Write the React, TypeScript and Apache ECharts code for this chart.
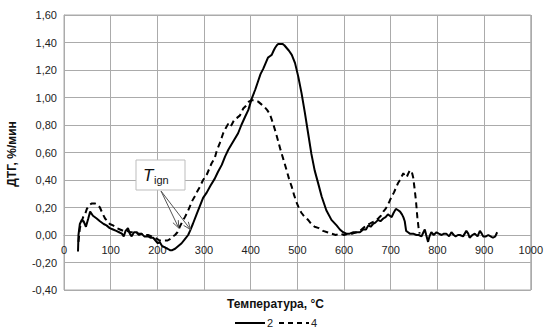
import React, { useEffect, useRef } from "react";
import * as echarts from "echarts";

// Sample "2" (solid line): temperature, °C and DTG, %/min
const temp2 = [30, 31, 34, 38, 42, 47, 52, 56, 62, 70, 77, 85, 91, 98, 105, 112, 118, 124, 128, 132, 137, 141, 145, 150, 156, 161, 166, 172, 180, 186, 191, 196, 201, 205, 210, 216, 222, 227, 232, 238, 245, 252, 259, 266, 270, 276, 284, 291, 298, 306, 314, 323, 330, 338, 345, 352, 359, 366, 373, 380, 388, 395, 402, 410, 416, 421, 427, 432, 437, 441, 445, 449, 452, 456, 459, 463, 468, 472, 477, 482, 488, 495, 502, 509, 516, 523, 530, 537, 545, 552, 562, 573, 584, 591, 598, 605, 612, 620, 627, 634, 641, 647, 652, 657, 662, 667, 673, 678, 684, 689, 694, 698, 702, 706, 711, 716, 720, 724, 727, 730, 733, 737, 741, 748, 755, 760, 766, 770, 773, 776, 780, 783, 787, 792, 798, 803, 809, 814, 819, 825, 830, 835, 839, 844, 848, 855, 862, 866, 869, 875, 880, 886, 891, 895, 898, 904, 909, 914, 919, 924, 928];
const dtg2 = [-0.12, 0.0, 0.08, 0.11, 0.10, 0.06, 0.12, 0.17, 0.14, 0.12, 0.10, 0.08, 0.07, 0.05, 0.04, 0.03, 0.02, 0.01, -0.01, 0.03, 0.05, 0.01, -0.01, 0.02, 0.02, 0.0, 0.01, -0.01, -0.01, -0.02, -0.02, -0.04, -0.06, -0.05, -0.08, -0.09, -0.10, -0.11, -0.11, -0.10, -0.08, -0.06, -0.03, 0.0, 0.03, 0.08, 0.15, 0.21, 0.27, 0.31, 0.36, 0.41, 0.46, 0.51, 0.57, 0.62, 0.66, 0.70, 0.74, 0.80, 0.86, 0.91, 0.99, 1.06, 1.12, 1.17, 1.21, 1.25, 1.29, 1.30, 1.31, 1.34, 1.36, 1.38, 1.39, 1.39, 1.39, 1.38, 1.36, 1.34, 1.31, 1.25, 1.15, 1.03, 0.89, 0.74, 0.59, 0.47, 0.37, 0.28, 0.18, 0.11, 0.07, 0.04, 0.02, 0.01, 0.01, 0.02, 0.02, 0.02, 0.04, 0.04, 0.07, 0.06, 0.08, 0.09, 0.11, 0.10, 0.12, 0.13, 0.15, 0.14, 0.13, 0.16, 0.19, 0.18, 0.17, 0.15, 0.13, 0.10, 0.03, 0.02, 0.01, 0.01, 0.0, 0.0, -0.01, 0.02, 0.04, 0.0, -0.05, -0.01, 0.02, 0.0, 0.02, 0.01, 0.0, 0.01, 0.01, -0.01, 0.02, 0.0, -0.01, 0.0, 0.0, -0.01, 0.03, 0.01, -0.02, 0.0, 0.01, -0.01, 0.03, 0.01, -0.01, -0.01, 0.0, -0.01, -0.02, -0.01, 0.02];

// Sample "4" (dashed line)
const temp4 = [31, 34, 38, 41, 45, 49, 55, 60, 66, 72, 77, 82, 88, 93, 98, 105, 113, 120, 127, 135, 142, 150, 158, 165, 172, 180, 188, 195, 200, 205, 210, 216, 222, 227, 233, 238, 243, 248, 254, 259, 265, 270, 275, 280, 286, 291, 298, 306, 316, 323, 327, 334, 341, 347, 352, 356, 359, 365, 370, 377, 384, 390, 396, 402, 409, 416, 423, 430, 435, 441, 448, 455, 463, 470, 477, 482, 488, 493, 498, 504, 509, 516, 523, 530, 537, 546, 555, 564, 573, 582, 591, 600, 609, 618, 627, 634, 641, 648, 654, 659, 666, 673, 679, 684, 689, 694, 698, 702, 707, 712, 716, 720, 724, 727, 730, 734, 738, 741, 745, 748, 751, 754, 757, 760, 762];
const dtg4 = [-0.05, 0.05, 0.10, 0.13, 0.15, 0.19, 0.22, 0.23, 0.23, 0.22, 0.20, 0.16, 0.12, 0.10, 0.08, 0.07, 0.05, 0.04, 0.03, 0.03, 0.02, 0.02, 0.01, 0.01, 0.0, 0.0, -0.01, -0.02, -0.03, -0.04, -0.04, -0.04, -0.04, -0.03, -0.01, 0.0, 0.02, 0.06, 0.10, 0.13, 0.17, 0.21, 0.25, 0.28, 0.32, 0.35, 0.40, 0.44, 0.52, 0.56, 0.61, 0.67, 0.74, 0.78, 0.81, 0.79, 0.80, 0.84, 0.85, 0.87, 0.92, 0.94, 0.97, 0.98, 0.98, 0.97, 0.95, 0.93, 0.91, 0.88, 0.81, 0.73, 0.63, 0.55, 0.47, 0.41, 0.35, 0.29, 0.24, 0.19, 0.16, 0.13, 0.11, 0.08, 0.06, 0.05, 0.03, 0.02, 0.01, 0.0, 0.01, 0.0, 0.01, 0.01, 0.02, 0.03, 0.05, 0.07, 0.08, 0.09, 0.10, 0.12, 0.14, 0.17, 0.19, 0.22, 0.25, 0.28, 0.31, 0.35, 0.38, 0.40, 0.43, 0.45, 0.43, 0.42, 0.45, 0.47, 0.46, 0.42, 0.34, 0.25, 0.13, 0.04, 0.01];

// Ignition points the T_ign arrows point at: [temperature, DTG]
const ignition4 = [246, 0.05];
const ignition2 = [271, 0.04];

const seriesNames = ["2", "4"];
const xTitle = "Температура, °C";
const yTitle = "ДТГ, %/мин";

const FONT = "'Liberation Sans', Arial, sans-serif";
const GRID_COLOR = "#ababab";
const Y_MIN = -0.4;
const Y_MAX = 1.6;
const GRID_TOP = 15;
const GRID_BOTTOM = 45;
const CHART_H = 335;

const pairs = (xs: number[], ys: number[]) => xs.map((x, i) => [x, ys[i]]);

function arrow(from: number[], to: number[]) {
  const dx = to[0] - from[0];
  const dy = to[1] - from[1];
  const len = Math.hypot(dx, dy);
  const ux = dx / len;
  const uy = dy / len;
  const head = 8;
  const spread = 0.38;
  const rot = (a: number) => [
    to[0] - head * (ux * Math.cos(a) - uy * Math.sin(a)),
    to[1] - head * (ux * Math.sin(a) + uy * Math.cos(a)),
  ];
  const style = { stroke: "#555", lineWidth: 1, fill: "none" };
  return [
    { type: "line", shape: { x1: from[0], y1: from[1], x2: to[0], y2: to[1] }, style, z: 10 },
    { type: "polyline", shape: { points: [rot(spread), to, rot(-spread)] }, style, z: 10 },
  ];
}

const baseGraphics = () => [
  {
    type: "text",
    left: 227,
    top: 298,
    style: { text: xTitle, fontFamily: FONT, fontSize: 12, fontWeight: "bold", fill: "#111" },
  },
  {
    type: "text",
    x: 12,
    y: 154,
    rotation: Math.PI / 2,
    style: {
      text: yTitle,
      fontFamily: FONT,
      fontSize: 12,
      fontWeight: "bold",
      fill: "#111",
      align: "center",
      verticalAlign: "middle",
    },
  },
  // legend: solid "2", dashed "4"
  {
    type: "line",
    shape: { x1: 235, y1: 323, x2: 265, y2: 323 },
    style: { stroke: "#000", lineWidth: 2 },
  },
  {
    type: "text",
    x: 267,
    y: 323,
    style: { text: seriesNames[0], fontFamily: FONT, fontSize: 11, fill: "#222", verticalAlign: "middle" },
  },
  {
    type: "line",
    shape: { x1: 279, y1: 323, x2: 309, y2: 323 },
    style: { stroke: "#000", lineWidth: 2, lineDash: [5, 4] },
  },
  {
    type: "text",
    x: 311,
    y: 323,
    style: { text: seriesNames[1], fontFamily: FONT, fontSize: 11, fill: "#222", verticalAlign: "middle" },
  },
];

export default function App() {
  const ref = useRef<HTMLDivElement>(null);

  useEffect(() => {
    if (!ref.current) return;
    const chart = echarts.init(ref.current, undefined, { renderer: "svg" });
    // x axis sits on the zero line: shift it up from the grid bottom
    const plotH = CHART_H - GRID_TOP - GRID_BOTTOM;
    const zeroOffset = (plotH * (0 - Y_MIN)) / (Y_MAX - Y_MIN);
    chart.setOption({
      animation: false,
      grid: {
        left: 64,
        right: 15,
        top: GRID_TOP,
        bottom: GRID_BOTTOM,
        show: true,
        borderColor: GRID_COLOR,
        borderWidth: 1,
      },
      xAxis: {
        type: "value",
        min: 0,
        max: 1000,
        interval: 100,
        offset: -zeroOffset,
        axisLine: { show: true, onZero: false, lineStyle: { color: GRID_COLOR } },
        axisTick: { show: false },
        axisLabel: {
          fontFamily: FONT,
          fontSize: 11,
          color: "#222",
          margin: 9,
          formatter: (v: number) => String(v),
        },
        splitLine: { lineStyle: { color: GRID_COLOR } },
      },
      yAxis: {
        type: "value",
        min: Y_MIN,
        max: Y_MAX,
        interval: 0.2,
        axisLine: { show: true, lineStyle: { color: GRID_COLOR } },
        axisTick: { show: false },
        axisLabel: {
          fontFamily: FONT,
          fontSize: 11,
          color: "#222",
          margin: 7,
          formatter: (v: number) => v.toFixed(2).replace(".", ","),
        },
        splitLine: { lineStyle: { color: GRID_COLOR } },
      },
      graphic: baseGraphics(),
      series: [
        {
          name: seriesNames[0],
          type: "line",
          data: pairs(temp2, dtg2),
          showSymbol: false,
          symbol: "none",
          lineStyle: { color: "#000", width: 2 },
          itemStyle: { color: "#000" },
          z: 3,
        },
        {
          name: seriesNames[1],
          type: "line",
          data: pairs(temp4, dtg4),
          showSymbol: false,
          symbol: "none",
          lineStyle: { color: "#000", width: 2, type: [6, 4] },
          itemStyle: { color: "#000" },
          z: 3,
        },
      ],
    });

    // T_ign callout: box with label and two arrows to the ignition points
    const tip4 = chart.convertToPixel({ xAxisIndex: 0, yAxisIndex: 0 }, ignition4) as number[];
    const tip2 = chart.convertToPixel({ xAxisIndex: 0, yAxisIndex: 0 }, ignition2) as number[];
    const origin = [161, 191];
    chart.setOption(
      {
        graphic: [
          ...baseGraphics(),
          {
            type: "rect",
            shape: { x: 136, y: 160, width: 49, height: 30 },
            style: { fill: "#fff", stroke: "#bdbdbd", lineWidth: 1 },
            z: 9,
          },
          {
            type: "text",
            x: 143,
            y: 175,
            style: {
              text: "T",
              fontFamily: FONT,
              fontSize: 17,
              fontStyle: "italic",
              fill: "#111",
              verticalAlign: "middle",
            },
            z: 11,
          },
          {
            type: "text",
            x: 154,
            y: 180,
            style: { text: "ign", fontFamily: FONT, fontSize: 11, fill: "#111", verticalAlign: "middle" },
            z: 11,
          },
          ...arrow(origin, tip4),
          ...arrow(origin, tip2),
        ],
      },
      { replaceMerge: ["graphic"] }
    );

    return () => chart.dispose();
  }, []);

  return (
    <div
      ref={ref}
      style={{ position: "fixed", left: 0, top: 0, width: 546, height: 335, background: "#fff" }}
    />
  );
}
